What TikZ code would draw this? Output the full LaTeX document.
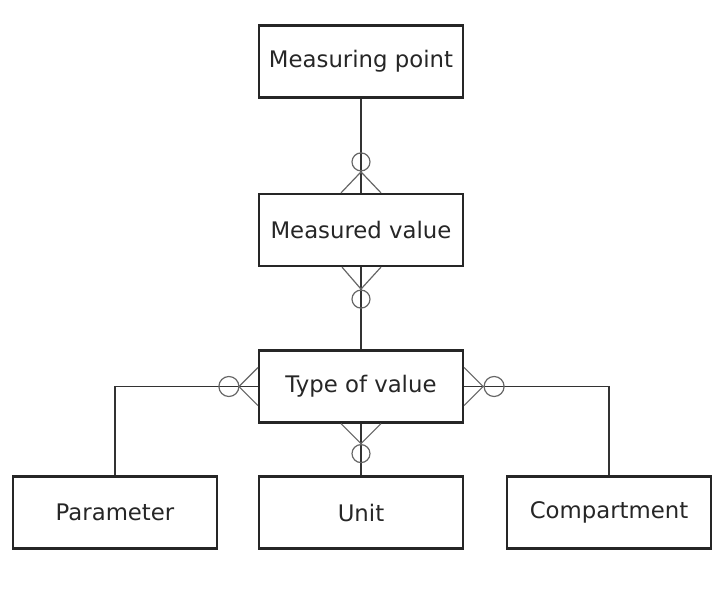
\documentclass[tikz,border=0pt]{standalone}
\usepackage{fontspec}
\setmainfont{DejaVu Sans}
\usetikzlibrary{calc}
\begin{document}
\begin{tikzpicture}[x=1pt,y=-1pt,
  entity/.style={draw=black!85,line width=2.2pt,minimum width=204pt,minimum height=72pt,inner sep=0pt,
    font=\fontsize{22.8}{26}\selectfont,text=black!85},
  conn/.style={draw=black!80,line width=1.6pt},
  foot/.style={draw=black!60,line width=1.2pt}]
\useasboundingbox (0,0) rectangle (712,591);
\node[entity] (mp) at (361,61.5) {Measuring point};
\node[entity] (mv) at (361,230) {Measured value};
\node[entity] (tov) at (361,386.5) {Type of value};
\node[entity] (par) at (115,512.5) {Parameter};
\node[entity] (unit) at (361,512.5) {Unit};
\node[entity] (comp) at (609,512.5) {Compartment};
% connectors
\draw[conn] (mp.south) -- (mv.north);
\draw[conn] (mv.south) -- (tov.north);
\draw[conn] (tov.south) -- (unit.north);
\draw[conn] (tov.west) -| (par.north);
\draw[conn] (tov.east) -| (comp.north);
% crow's feet (zero or many)
\draw[foot] ([xshift=-20pt]mv.north) -- ([yshift=21pt]mv.north) -- ([xshift=20pt]mv.north);
\draw[foot] ([yshift=31pt]mv.north) circle (9pt);
\draw[foot] ([xshift=-19pt]mv.south) -- ([yshift=-22pt]mv.south) -- ([xshift=20pt]mv.south);
\draw[foot] ([yshift=-32pt]mv.south) circle (9pt);
\draw[foot] ([yshift=19pt]tov.west) -- ([xshift=-19pt]tov.west) -- ([yshift=-19pt]tov.west);
\draw[foot] ([xshift=-29pt]tov.west) circle (10pt);
\draw[foot] ([yshift=19pt]tov.east) -- ([xshift=19pt]tov.east) -- ([yshift=-19pt]tov.east);
\draw[foot] ([xshift=30pt]tov.east) circle (10pt);
\draw[foot] ([xshift=-20pt]tov.south) -- ([yshift=-20pt]tov.south) -- ([xshift=20pt]tov.south);
\draw[foot] ([yshift=-30pt]tov.south) circle (9pt);
\end{tikzpicture}
\end{document}
